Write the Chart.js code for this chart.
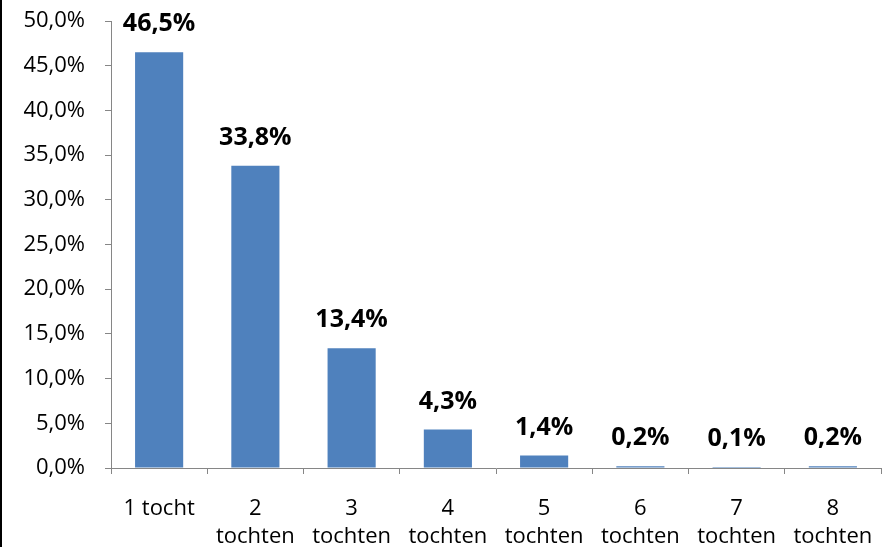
<!DOCTYPE html>
<html>
<head>
<meta charset="utf-8">
<script src="https://cdn.jsdelivr.net/npm/chart.js@4"></script>
<style>
  html, body { margin: 0; padding: 0; background: #fff; }
  #wrap { width: 887px; height: 547px; border-left: 2px solid #000; }
</style>
</head>
<body>
<div id="wrap"><canvas id="barChart" width="887" height="547"></canvas></div>
<script>
const categories = [
    "1 tocht", ["2", "tochten"], ["3", "tochten"], ["4", "tochten"],
    ["5", "tochten"], ["6", "tochten"], ["7", "tochten"], ["8", "tochten"]
];
const percentages = [46.5, 33.8, 13.4, 4.3, 1.4, 0.2, 0.1, 0.2];
const yTicks = [0, 5, 10, 15, 20, 25, 30, 35, 40, 45, 50];

const FONT = "'Open Sans', sans-serif";
const AXIS = "#868686";

function nl(v) {
    return v.toFixed(1).replace(".", ",") + "%";
}

/* labels above bars */
const barLabels = {
    id: "barLabels",
    afterDatasetsDraw(chart) {
        const ctx = chart.ctx;
        const meta = chart.getDatasetMeta(0);
        ctx.save();
        ctx.font = "bold 25px " + FONT;
        ctx.fillStyle = "#000";
        ctx.textAlign = "center";
        ctx.textBaseline = "middle";
        meta.data.forEach((bar, i) => {
            ctx.fillText(nl(percentages[i]), bar.x, bar.y - 28);
        });
        ctx.restore();
    }
};

new Chart(document.getElementById("barChart"), {
    type: "bar",
    data: {
        labels: categories,
        datasets: [{
            data: percentages,
            backgroundColor: "#4F81BD",
            barPercentage: 0.5,
            categoryPercentage: 1
        }]
    },
    options: {
        responsive: false,
        animation: false,
        layout: { padding: { top: 21, right: 8, left: 0, bottom: 0 } },
        plugins: { legend: { display: false }, tooltip: { enabled: false } },
        scales: {
            x: {
                grid: { offset: true, drawOnChartArea: false, tickLength: 6, color: AXIS },
                border: { color: AXIS, width: 1 },
                ticks: {
                    color: "#000",
                    padding: 21,
                    maxRotation: 0,
                    autoSkip: false,
                    font: { family: FONT, size: 22, lineHeight: 1.27 }
                },
                afterFit(scale) {
                    scale.height = 79;
                    scale.paddingLeft = 0;
                    scale.paddingRight = 0;
                }
            },
            y: {
                min: 0,
                max: 50,
                afterBuildTicks(scale) { scale.ticks = yTicks.map(v => ({ value: v })); },
                grid: { drawOnChartArea: false, tickLength: 6, color: AXIS },
                border: { color: AXIS, width: 1 },
                ticks: {
                    color: "#000",
                    padding: 20,
                    font: { family: FONT, size: 22 },
                    callback: v => nl(v)
                },
                afterFit(scale) {
                    scale.width = 109;
                    scale.paddingTop = 0;
                    scale.paddingBottom = 0;
                }
            }
        }
    },
    plugins: [barLabels]
});
</script>
</body>
</html>
